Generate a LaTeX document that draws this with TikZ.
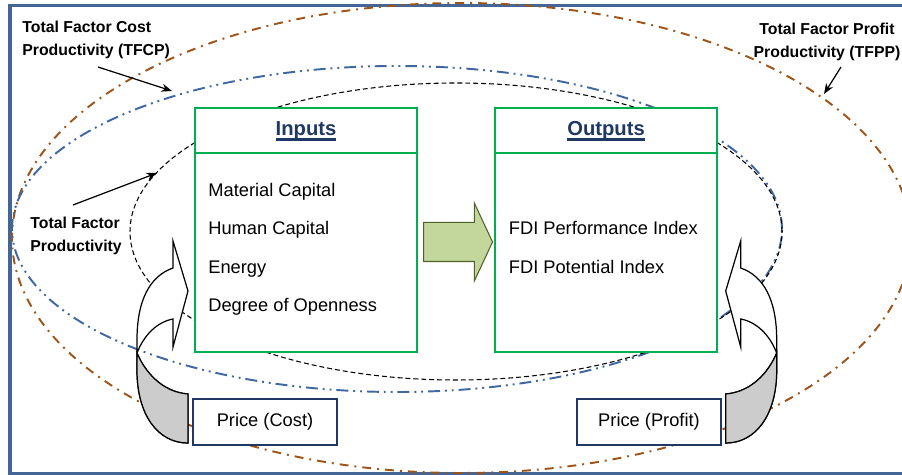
\documentclass[tikz,border=0pt]{standalone}
\usepackage{fontspec}
\setmainfont{Liberation Sans}
\usepackage{tikz}
\usetikzlibrary{arrows.meta}
\usetikzlibrary{shapes.arrows}

\definecolor{framecol}{RGB}{68,102,150}
\definecolor{tfppcol}{RGB}{158,84,24}
\definecolor{tfcpcol}{RGB}{64,104,160}
\definecolor{boxgreen}{RGB}{0,176,80}
\definecolor{headnavy}{RGB}{31,56,100}
\definecolor{flowfill}{RGB}{195,214,155}
\definecolor{flowedge}{RGB}{79,98,40}
\definecolor{backgray}{RGB}{204,204,204}

% heading with a heavy underline
\newcommand{\uhead}[1]{\setbox0\hbox{#1}\rlap{\vrule height -1.7pt depth 3.2pt width \wd0}\box0}

\tikzset{
  tfpp/.style={draw=tfppcol, line width=1.1pt, dash pattern=on 5.1pt off 3.4pt on 1.1pt off 3.4pt},
  tfcp/.style={draw=tfcpcol, line width=1.1pt, dash pattern=on 6.8pt off 2.8pt on 1.1pt off 2.8pt on 1.1pt off 2.8pt},
  tfp/.style={draw=black, line width=0.6pt, dash pattern=on 2.8pt off 1.7pt},
  tag/.style={font=\bfseries\fontsize{9}{12.9}\selectfont, align=left, inner sep=0pt},
  pointer/.style={-{Stealth[length=6pt,width=4.6pt]}, line width=0.7pt},
  listbox/.style={draw=boxgreen, line width=1.1pt, fill=white, minimum width=4.44cm, minimum height=4.88cm, inner sep=0pt},
  boxhead/.style={font=\bfseries\fontsize{11.5}{14}\selectfont, text=headnavy, inner sep=0pt, anchor=base},
  boxitem/.style={font=\fontsize{10.4}{12.5}\selectfont, inner sep=0pt, anchor=base west},
  pricebox/.style={draw=headnavy, line width=0.7pt, fill=white, minimum width=2.88cm, minimum height=0.92cm, font=\fontsize{10.4}{12.5}\selectfont},
  flowarrow/.style={single arrow, draw=flowedge, fill=flowfill, line width=0.6pt, minimum height=1.38cm, minimum width=1.54cm, inner xsep=0pt, inner ysep=0.38cm, single arrow head extend=0.39cm, single arrow tip angle=130, anchor=tail},
  bendarrow/.style={draw=black, line width=0.7pt}
}

\begin{document}
\begin{tikzpicture}
  \useasboundingbox (0, 0) rectangle (18.04, 9.5);
  \draw[framecol, line width=1.8pt] (0.2, 0.034) rectangle (18.3, 9.386);

  % the three productivity rings
  \draw[tfpp] (9.23, 4.74) ellipse (8.99 and 4.7);
  \draw[tfcp] (7.94, 4.92) ellipse (7.7 and 3.26);
  \draw[tfp] (9.12, 4.87) ellipse (6.52 and 2.97);

  % price feeding back into the boxes, mirrored on the right
  \foreach \s in {1, -1} {
    \begin{scope}[shift={(9.137, 0)}, xscale=\s, shift={(-9.137, 0)}]
      \draw[bendarrow, fill=white] (3.46, 4.14) .. controls (3.0, 3.98) and (2.74, 3.5) .. (2.74, 2.7)
        -- (2.74, 2.1) .. controls (2.74, 1.2) and (3.16, 0.64) .. (3.76, 0.64)
        -- (3.76, 1.62) .. controls (3.24, 1.66) and (2.9, 2.06) .. (2.74, 2.44)
        .. controls (2.88, 2.8) and (3.14, 3.06) .. (3.46, 3.12)
        -- (3.46, 2.56) -- (3.76, 3.68) -- (3.46, 4.68) -- cycle;
      \draw[bendarrow, fill=backgray] (2.74, 2.44) -- (2.74, 2.1)
        .. controls (2.74, 1.2) and (3.16, 0.64) .. (3.76, 0.64)
        -- (3.76, 1.62) .. controls (3.24, 1.66) and (2.9, 2.06) .. (2.74, 2.44) -- cycle;
    \end{scope}
  }

  % inputs and outputs
  \node[listbox] (inputs) at (6.12, 4.9) {};
  \node[listbox] (outputs) at (12.12, 4.9) {};
  \foreach \b in {inputs, outputs} {
    \draw[draw=boxgreen, line width=1.1pt] ([yshift=-0.92cm]\b.north west) -- ([yshift=-0.92cm]\b.north east);
  }
  \node[boxhead] (inputs-head) at ([yshift=-0.56cm]inputs.north) {\uhead{Inputs}};
  \node[boxhead] (outputs-head) at ([yshift=-0.56cm]outputs.north) {\uhead{Outputs}};

  \foreach \txt [count=\i] in {Material Capital, Human Capital, Energy, Degree of Openness} {
    \node[boxitem] (in\i) at ([xshift=0.28cm, yshift={-1.78cm-(\i-1)*0.77cm}]inputs.north west) {\txt};
  }
  \foreach \txt [count=\i] in {FDI Performance Index, FDI Potential Index} {
    \node[boxitem] (out\i) at ([xshift=0.29cm, yshift={-2.55cm-(\i-1)*0.77cm}]outputs.north west) {\txt};
  }

  \node[flowarrow] (flow) at (8.46, 4.66) {};

  \node[pricebox] (cost) at (5.3, 1.06) {Price (Cost)};
  \node[pricebox] (profit) at (12.98, 1.06) {Price (Profit)};

  % ring labels
  \node[tag, anchor=north west] (tfcp-tag) at (0.44, 9.08) {Total Factor Cost\\Productivity (TFCP)};
  \node[tag, anchor=north, align=center] (tfpp-tag) at (16.54, 9.04) {Total Factor Profit\\Productivity (TFPP)};
  \node[tag, anchor=north west] (tfp-tag) at (0.6, 5.16) {Total Factor\\Productivity};

  \coordinate (tfcp-from) at (1.96, 8.16);
  \coordinate (tfcp-to) at (3.44, 7.68);
  \coordinate (tfpp-from) at (16.82, 8.16);
  \coordinate (tfpp-to) at (16.48, 7.62);
  \coordinate (tfp-from) at (1.46, 5.4);
  \coordinate (tfp-to) at (3.14, 6.04);
  \draw[pointer] (tfcp-from) -- (tfcp-to);
  \draw[pointer] (tfpp-from) -- (tfpp-to);
  \draw[pointer] (tfp-from) -- (tfp-to);
\end{tikzpicture}
\end{document}
